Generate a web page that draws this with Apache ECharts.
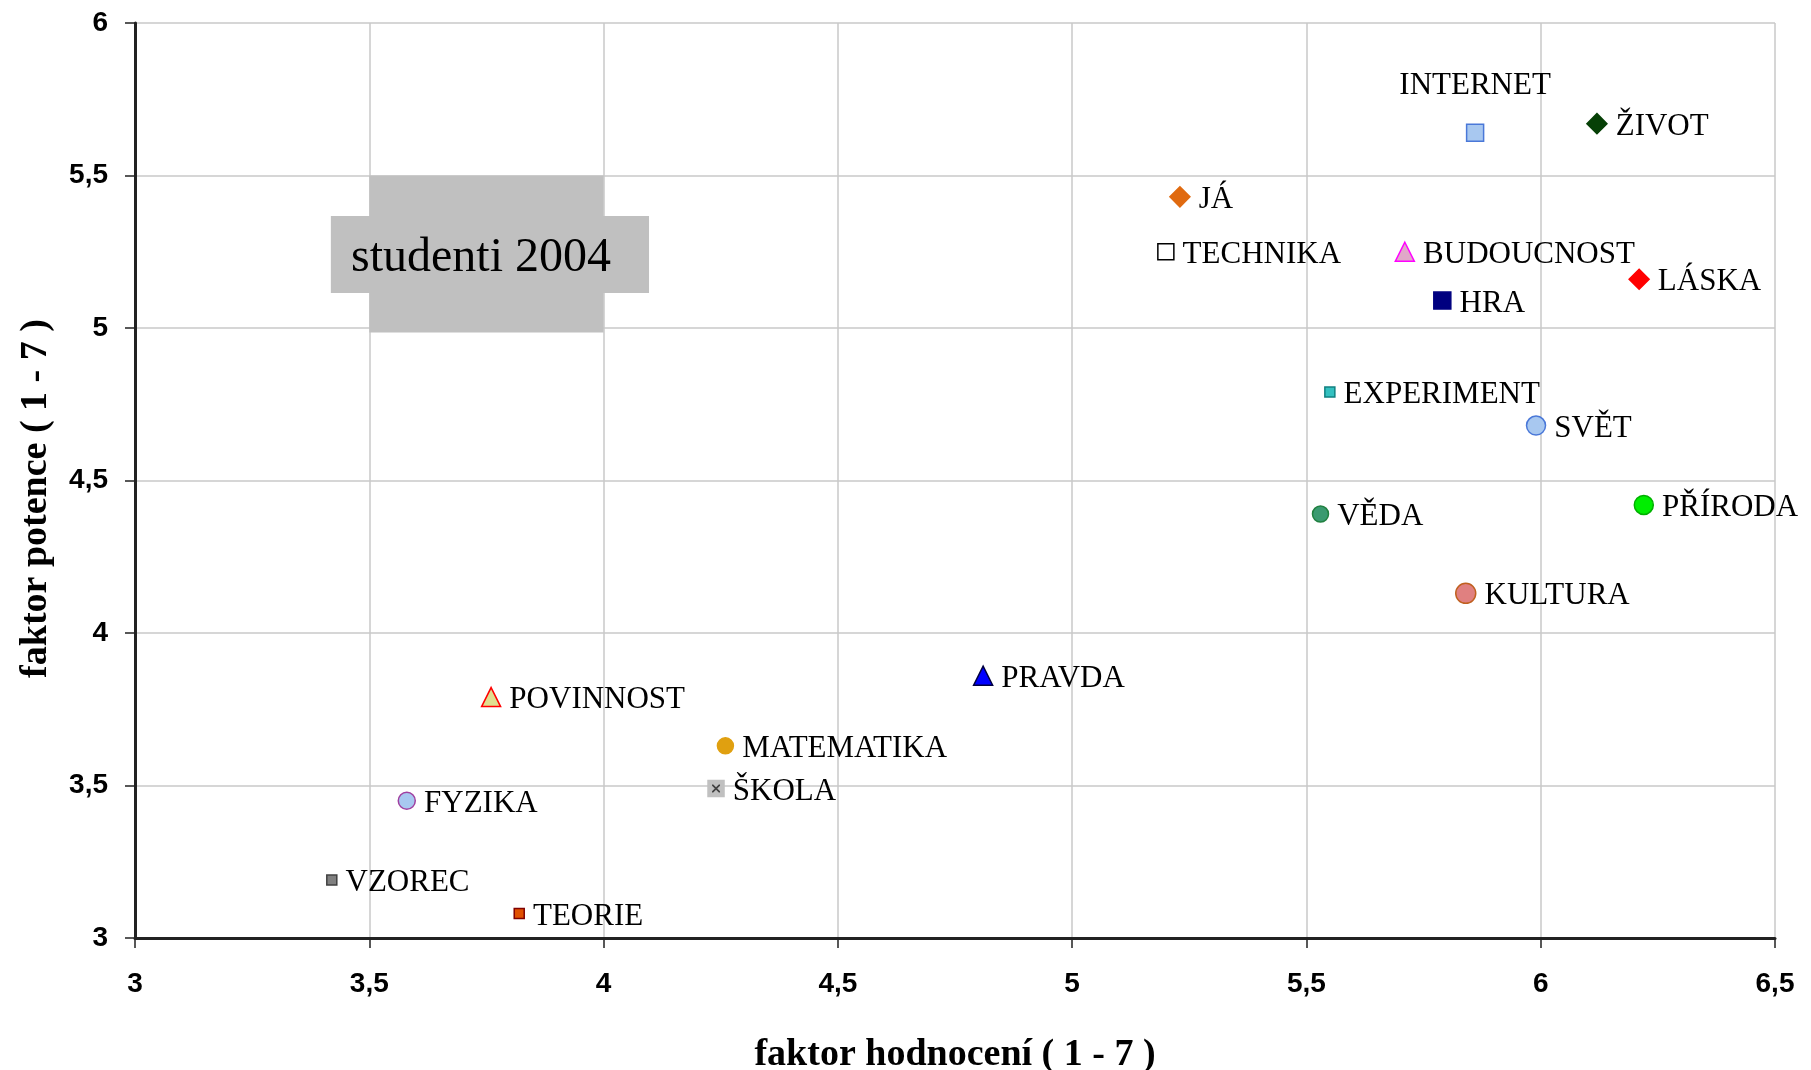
<!DOCTYPE html>
<html>
<head>
<meta charset="utf-8">
<script src="https://cdn.jsdelivr.net/npm/echarts@6/dist/echarts.min.js"></script>
<style>
  html, body { margin: 0; padding: 0; background: #fff; }
  #chart { width: 1811px; height: 1070px; }
</style>
</head>
<body>
<div id="chart"></div>
<script>
// pojmy a jejich faktory
const pojmy = ["INTERNET", "ŽIVOT", "JÁ", "TECHNIKA", "BUDOUCNOST", "LÁSKA", "HRA",
  "EXPERIMENT", "SVĚT", "VĚDA", "PŘÍRODA", "KULTURA", "PRAVDA", "POVINNOST",
  "MATEMATIKA", "ŠKOLA", "FYZIKA", "VZOREC", "TEORIE"];
const hodnoceni = [5.86, 6.12, 5.23, 5.20, 5.71, 6.21, 5.79,
  5.55, 5.99, 5.53, 6.22, 5.84, 4.81, 3.76,
  4.26, 4.24, 3.58, 3.42, 3.82];
const potence = [5.64, 5.67, 5.43, 5.25, 5.25, 5.16, 5.09,
  4.79, 4.68, 4.39, 4.42, 4.13, 3.86, 3.79,
  3.63, 3.49, 3.45, 3.19, 3.08];
const xTicks = ["3", "3,5", "4", "4,5", "5", "5,5", "6", "6,5"];
const yTicks = ["3", "3,5", "4", "4,5", "5", "5,5", "6"];

// vzhled znacek (stejne poradi jako pojmy)
const symboly = ["rect", "diamond", "diamond", "rect", "triangle", "diamond", "rect",
  "rect", "circle", "circle", "circle", "circle", "triangle", "triangle",
  "circle", "rect", "circle", "rect", "rect"];
const velikosti = [17, 20, 20, 16, 19, 20, 17, 10, 19, 16, 19, 20, 19, 19, 16, 16, 17, 10, 10];
const vyplne = ["#a8c8f0", "#064006", "#e06a10", "#ffffff", "#e0a8c8", "#ff0000", "#000080",
  "#33c0c0", "#a8c8f0", "#3a9a70", "#00ee00", "#e08080", "#0000ff", "#e0e090",
  "#e0a010", "#c0c0c0", "#a8c8f0", "#808080", "#e05000"];
const okraje = ["#4a78d8", "#064006", "#e06a10", "#000000", "#ff00ff", "#ff0000", "#000080",
  "#108080", "#4a78d8", "#208040", "#00b000", "#c06020", "#000040", "#ff0000",
  "#e0a010", "#c0c0c0", "#a040a0", "#404040", "#800000"];

const chart = echarts.init(document.getElementById('chart'), null, { renderer: 'canvas' });

const body = pojmy.map((p, i) => ({
  name: p,
  value: [hodnoceni[i], potence[i]],
  symbol: symboly[i],
  symbolSize: velikosti[i],
  itemStyle: { color: vyplne[i], borderColor: okraje[i], borderWidth: 1.5, opacity: 1 },
  label: p === "INTERNET"
    ? { position: 'top', distance: 22 }
    : { position: 'right', distance: 8, offset: [0, 3] }
}));

const skola = pojmy.indexOf("ŠKOLA");
const krizek = 'path://M0,0 L3,0 L10,7 L17,0 L20,0 L20,3 L13,10 L20,17 L20,20 L17,20 L10,13 L3,20 L0,20 L0,17 L7,10 L0,3 Z';

const fmt = v => String(v).replace('.', ',');

const option = {
  animation: false,
  backgroundColor: '#ffffff',
  grid: { left: 135, right: 36, top: 23, bottom: 132, containLabel: false, outerBoundsMode: 'none' },
  xAxis: {
    type: 'value',
    min: 3, max: 6.5, interval: 0.5,
    name: 'faktor hodnocení ( 1 - 7 )',
    nameLocation: 'middle',
    nameGap: 98,
    nameTextStyle: { fontFamily: 'Liberation Serif', fontWeight: 'bold', fontSize: 38, color: '#000' },
    axisLine: { show: true, onZero: false, lineStyle: { color: '#222', width: 3 } },
    axisTick: { show: true, inside: false, length: 10, lineStyle: { color: '#222', width: 1.5 } },
    axisLabel: {
      margin: 32, color: '#000', fontFamily: 'Liberation Sans', fontWeight: 'bold', fontSize: 28,
      formatter: v => xTicks[Math.round((v - 3) * 2)] || fmt(v)
    },
    splitLine: { show: true, lineStyle: { color: '#c8c8c8', width: 1.5 } }
  },
  yAxis: {
    type: 'value',
    min: 3, max: 6, interval: 0.5,
    name: 'faktor potence ( 1 - 7 )',
    nameLocation: 'middle',
    nameRotate: 90,
    nameGap: 80,
    nameTextStyle: {
      fontFamily: 'Liberation Serif', fontWeight: 'bold', fontSize: 38, color: '#000',
      padding: [0, 36, 0, 0]
    },
    axisLine: { show: true, onZero: false, lineStyle: { color: '#222', width: 3 } },
    axisTick: { show: true, inside: false, length: 10, lineStyle: { color: '#222', width: 1.5 } },
    axisLabel: {
      margin: 27, color: '#000', fontFamily: 'Liberation Sans', fontWeight: 'bold', fontSize: 28,
      formatter: v => yTicks[Math.round((v - 3) * 2)] || fmt(v)
    },
    splitLine: { show: true, lineStyle: { color: '#c8c8c8', width: 1.5 } }
  },
  graphic: [{
    type: 'text',
    left: 351, top: 234,
    z: 100,
    style: { text: 'studenti 2004', font: '48px "Liberation Serif"', fill: '#000' }
  }],
  series: [{
    type: 'scatter',
    data: body,
    label: {
      show: true,
      formatter: '{b}',
      color: '#000',
      fontFamily: 'Liberation Serif',
      fontSize: 31
    },
    markArea: {
      silent: true,
      itemStyle: { color: '#c0c0c0', opacity: 1 },
      data: [
        [{ coord: [3.5, 5.5] }, { coord: [4.0, 4.985] }],
        [{ coord: [3.418, 5.367] }, { coord: [4.097, 5.115] }]
      ]
    },
    z: 3
  }, {
    type: 'scatter',
    silent: true,
    z: 4,
    symbol: krizek,
    symbolSize: 8,
    itemStyle: { color: '#404040', opacity: 1 },
    data: [[hodnoceni[skola], potence[skola]]]
  }]
};

chart.setOption(option);
</script>
</body>
</html>
